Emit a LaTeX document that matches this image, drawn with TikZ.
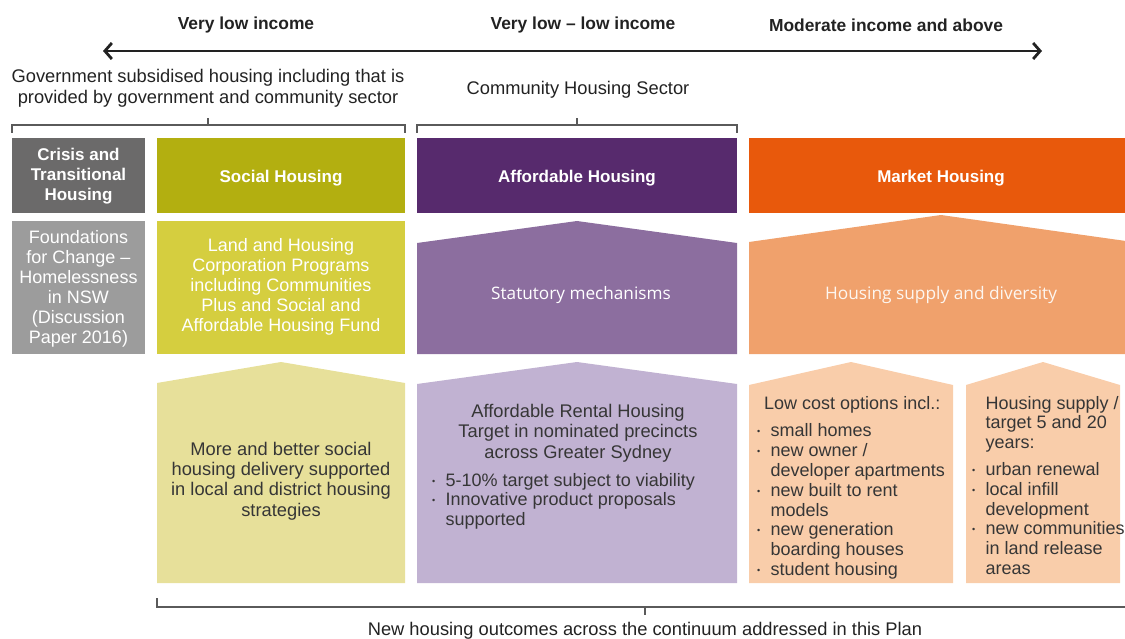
\documentclass[tikz,border=0pt]{standalone}
\usepackage{fontspec}
\setmainfont{Liberation Sans}
\newfontfamily\opensans{Open Sans}
\usepackage{tikz,graphicx}
\usetikzlibrary{arrows.meta}
\definecolor{inkdark}{HTML}{222222}
\definecolor{inkgrey}{HTML}{363636}
\definecolor{bracketgrey}{HTML}{5A5A5A}
\definecolor{crisisdark}{HTML}{6B6A6A}
\definecolor{crisislight}{HTML}{9C9C9C}
\definecolor{socialdark}{HTML}{B3AF10}
\definecolor{socialmid}{HTML}{D5CE3F}
\definecolor{sociallight}{HTML}{E7E09A}
\definecolor{affdark}{HTML}{572A6D}
\definecolor{affmid}{HTML}{8C6E9F}
\definecolor{afflight}{HTML}{C1B2D2}
\definecolor{mktdark}{HTML}{E8590C}
\definecolor{mktmid}{HTML}{F0A16C}
\definecolor{mktlight}{HTML}{F9CDAA}
\newcommand{\fs}[2]{\fontsize{#1}{#2}\selectfont}
\newcommand{\bul}{\makebox[13.5pt][l]{\raisebox{2pt}{\fs{9}{9}\textbullet}}}
% house shape: colour, left x, right x, peak y, side y, bottom y
\newcommand{\housefill}[6]{\fill[#1] (#2,#6) -- (#2,#5) -- ({(#2+#3)/2},#4) -- (#3,#5) -- (#3,#6) -- cycle;}

\begin{document}
\begin{tikzpicture}[x=1pt,y=-1pt,
    toplabel/.style={font=\bfseries\fs{17.4}{20}, text=inkdark, inner sep=0},
    plainlabel/.style={font=\fs{18.3}{21}, text=inkdark, align=center, inner sep=0},
    bandtitle/.style={font=\bfseries\fs{17}{20}, text=white, align=center, inner sep=0},
    bandtext/.style={font=\fs{18}{20}, text=white, align=center, inner sep=0},
    bodytext/.style={font=\fs{18.3}{20.3}, text=inkgrey, align=center, inner sep=0},
    listtext/.style={font=\fs{18}{19.8}, text=inkgrey, inner sep=0, anchor=north west},
    bracket/.style={draw=bracketgrey, line width=1.2pt}]
  \useasboundingbox (0,0) rectangle (1125,639);
  \clip (0,0) rectangle (1125,639);

  % income scale
  \node[toplabel] (vlow) at (246,25) {Very low income};
  \node[toplabel] (vlowlow) at (583,25) {Very low -- low income};
  \node[toplabel] (moderate) at (886,25) {Moderate income and above};
  \coordinate (scaleL) at (103,51);
  \coordinate (scaleR) at (1042,51);
  \draw[line width=2.8pt, inkdark, {Straight Barb[length=7pt,width=16pt]}-{Straight Barb[length=7pt,width=16pt]}] (scaleL) -- (scaleR);

  % sector brackets
  \node[plainlabel] (govsector) at (208,88) {Government subsidised housing including that is\\provided by government and community sector};
  \draw[bracket] (12,133) -- (12,125) -- (405,125) -- (405,133);
  \draw[bracket] (208,125) -- (208,118);
  \node[plainlabel] (commsector) at (578,90) {Community Housing Sector};
  \draw[bracket] (417,133) -- (417,125) -- (737,125) -- (737,133);
  \draw[bracket] (577,125) -- (577,118);

  % first row
  \fill[crisisdark] (12,138) rectangle (145,213);
  \node[bandtitle] (crisis) at (78.5,176) {Crisis and\\Transitional\\Housing};
  \fill[socialdark] (157,138) rectangle (405,213);
  \node[bandtitle] (social) at (281,178) {Social Housing};
  \fill[affdark] (417,138) rectangle (737,213);
  \node[bandtitle] (afford) at (577,178) {Affordable Housing};
  \fill[mktdark] (749,138) rectangle (1135,213);
  \node[bandtitle] (market) at (941,178) {Market Housing};

  % second row
  \fill[crisislight] (12,221) rectangle (145,354);
  \node[bandtext] (foundations) at (78.5,289) {Foundations\\for Change --\\Homelessness\\in NSW\\(Discussion\\Paper 2016)};
  \fill[socialmid] (157,221) rectangle (405,354);
  \node[bandtext] (landhousing) at (281,287) {Land and Housing\\Corporation Programs\\including Communities\\Plus and Social and\\Affordable Housing Fund};
  \housefill{affmid}{417}{737}{221}{243}{354}
  \node[bandtext, font=\opensans\fs{17.2}{20}] (statutory) at (581,295) {Statutory mechanisms};
  \housefill{mktmid}{749}{1133}{215}{242}{354}
  \node[bandtext, font=\opensans\fs{17.3}{20}, text=white!90!mktmid] (supply) at (941,295) {Housing supply and diversity};

  % third row
  \housefill{sociallight}{157}{405}{362}{383}{583}
  \node[bodytext] (socialout) at (281,481) {More and better social\\housing delivery supported\\in local and district housing\\strategies};
  \housefill{afflight}{417}{737}{362}{384}{583}
  \node[bodytext] (rentaltarget) at (578,433) {Affordable Rental Housing\\Target in nominated precincts\\across Greater Sydney};
  \node[listtext] (rentalpoints) at (432,472) {\begin{tabular}{@{}l@{}l@{}}
    \bul & 5-10\% target subject to viability\\
    \bul & Innovative product proposals\\
         & supported
  \end{tabular}};
  \housefill{mktlight}{749}{953}{362}{385}{583}
  \node[listtext] (lowcost) at (757,395) {\begin{tabular}{@{}l@{}l@{}}
    \multicolumn{2}{@{\hspace{7pt}}l@{}}{Low cost options incl.:}\\[8pt]
    \bul & small homes\\
    \bul & new owner /\\
         & developer apartments\\
    \bul & new built to rent\\
         & models\\
    \bul & new generation\\
         & boarding houses\\
    \bul & student housing
  \end{tabular}};
  \housefill{mktlight}{966}{1120}{362}{385}{583}
  \node[listtext] (supplytarget) at (972,395) {\begin{tabular}{@{}l@{}l@{}}
         & Housing supply /\\
         & target 5 and 20\\
         & years:\\[7pt]
    \bul & urban renewal\\
    \bul & local infill\\
         & development\\
    \bul & new communities\\
         & in land release\\
         & areas
  \end{tabular}};

  % outcomes bracket
  \draw[bracket] (157,598) -- (157,607) -- (1135,607);
  \draw[bracket] (645,607) -- (645,615);
  \node[plainlabel] (outcomes) at (645,631) {New housing outcomes across the continuum addressed in this Plan};
\end{tikzpicture}
\end{document}
